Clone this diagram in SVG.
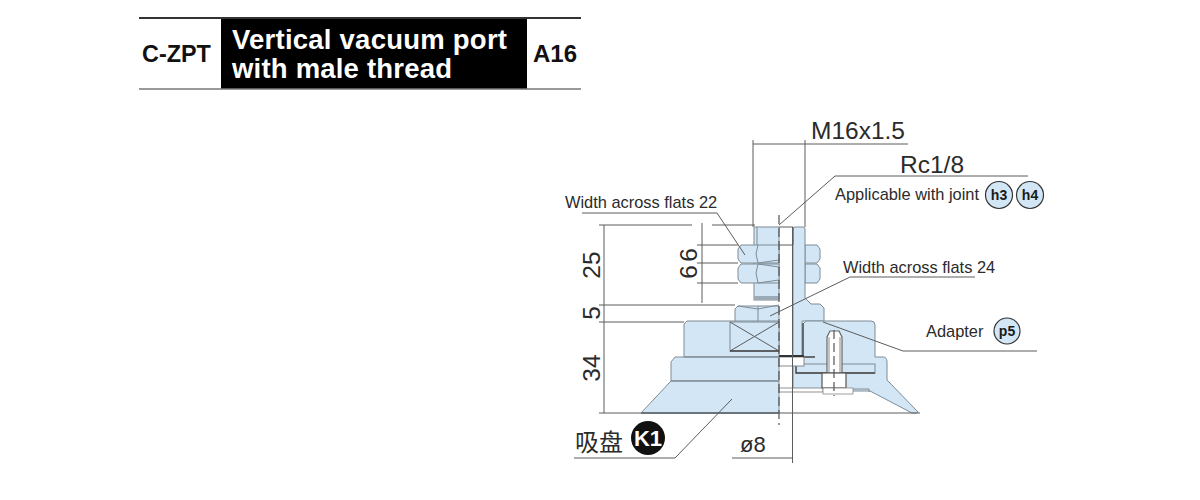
<svg xmlns="http://www.w3.org/2000/svg" width="1200" height="500" viewBox="0 0 1200 500">
<style>
text{font-family:"Liberation Sans",Arial,sans-serif;fill:#2b2b2b}
.cjk{font-family:"Noto Sans CJK SC","Liberation Sans",sans-serif}
.b{font-weight:bold;fill:#111}
.dim{font-size:24.500px}
.lab{font-size:16.400px}
.badge{font-size:14px;font-weight:bold;text-anchor:middle;fill:#1a1a1a}
.p{fill:#d2e6f5;stroke:#7f8c96;stroke-width:1}
.ln{fill:none;stroke:#5c5c5c;stroke-width:1}
.soft{fill:none;stroke:#7f8c96;stroke-width:1}
.dk{fill:none;stroke:#444;stroke-width:1.300}
.wh{fill:#fff;stroke:#888;stroke-width:1}
.cl{fill:none;stroke:#555;stroke-width:1.200;stroke-dasharray:9 4}
.c{fill:#d2e6f5;stroke:#333;stroke-width:1.200}
</style>
<rect width="1200" height="500" fill="#fff"/>
<g id="header">
<rect x="221" y="18" width="306" height="71" fill="#000"/>
<path d="M139 18H581" stroke="#333" stroke-width="2" fill="none"/>
<path d="M139 89H581" stroke="#777" stroke-width="1.400" fill="none"/>
<text class="b" x="142" y="62" font-size="23.400">C-ZPT</text>
<text x="232" y="49" font-size="27.500" font-weight="bold" style="fill:#fff" textLength="275" lengthAdjust="spacing">Vertical vacuum port</text>
<text x="232" y="78" font-size="27.500" font-weight="bold" style="fill:#fff" textLength="220" lengthAdjust="spacing">with male thread</text>
<text class="b" x="533" y="62" font-size="24">A16</text>
</g>
<g id="part">
<rect class="p" x="754" y="227" width="25" height="73"/>
<path class="soft" d="M757 227V245"/>
<rect x="754" y="296" width="25" height="4" fill="#9aaab6"/>
<path class="p" d="M741 245H779V263H741L738 259V249Z"/>
<path class="p" d="M741 264H779V283H741L738 279V268Z"/>
<path class="soft" d="M758 245L756 254L758 263M758 264L756 273L758 283M758 263L779 260M758 264L779 267M758 283L779 280"/>
<path class="p" d="M805 245H817L820 249V259L817 263H805Z"/>
<path class="p" d="M805 264H817L820 268V279L817 283H805Z"/>
<path class="p" d="M793 229Q793 227 795 227H803Q805 227 805 229V298L811 304H820L824 308V321H802V357H793Z"/>
<path class="ln" d="M779 227H793V245H779"/>
<path class="p" d="M738 306H779V322H735V309Z"/>
<path class="soft" d="M758 306V322M758 309L738 306M758 309L779 305"/>
<path class="p" d="M684 324L687 321H779V357H684Z"/>
<rect class="p" x="730" y="322" width="49" height="29"/>
<path class="ln" d="M730 322L779 351M730 351L779 322"/>
<path class="dk" d="M730 351H779"/>
<path class="p" d="M671 362L675 357H779V381H671Z"/>
<path class="p" d="M671 381H779V413H641Z"/>
<path class="soft" d="M671 381H779M684 357H779"/>
<path d="M641 413H779" stroke="#7f8c96" stroke-width="2" fill="none"/>
<path class="p" d="M803 324L806 321H871Q875 321 875 325V357H883Q887 357 887 362V380L918 412Q918 413 915 413L912 413L870 391H793V357H803Z"/>
<rect class="p" x="796" y="364" width="79" height="9"/>
<path class="dk" d="M803 323V356M796 365V373H875M793 357H815"/>
<rect class="wh" x="779" y="357" width="25" height="9"/>
<path d="M779 356H804" stroke="#333" stroke-width="2" fill="none"/>
<rect x="779" y="388" width="44" height="4" fill="#fff" stroke="#777" stroke-width="0.800"/>
<path class="soft" d="M853 389H869V392"/>
<path d="M827 373V337L830 331H839L842 337V373Z" fill="#fff" stroke="#666" stroke-width="1.200"/>
<path d="M829 373V337M840 373V337" stroke="#8a8a8a" stroke-width="1" fill="none"/>
<rect x="822" y="373" width="24" height="15" fill="#fff" stroke="#555" stroke-width="1.200"/>
<rect x="823" y="388" width="30" height="6" fill="#fff" stroke="#888" stroke-width="0.800"/>
<path class="cl" d="M834 330V396" stroke-dasharray="7 3"/>
<path class="cl" d="M779 215V425"/>
</g>
<g id="connectors">
<path class="ln" d="M753 140V227M805 140V227M753 144H908"/>
<path class="ln" d="M792.500 227V463"/>
<path class="ln" d="M599 225H692M712 225H755M604 225V413M599 305H735M599 322H684M599 413H920"/>
<path class="ln" d="M702 223V303M697 245H738M697 263H738M697 283H738"/>
<path class="ln" d="M582 213H717L745 255"/>
<path class="ln" d="M1028 176H835L779 225"/>
<path class="ln" d="M975 277H850L770 316"/>
<path class="ln" d="M823 322L903 351H1037"/>
<path class="ln" d="M574 458H675L732 399"/>
<path class="ln" d="M732 458H792"/>
</g>
<g id="labels">
<text class="dim" x="811" y="139">M16x1.5</text>
<text class="dim" x="900" y="173">Rc1/8</text>
<text class="lab" x="835" y="200">Applicable with joint</text>
<text class="lab" x="565" y="208">Width across flats 22</text>
<text class="lab" x="843" y="273">Width across flats 24</text>
<text class="lab" x="926" y="337">Adapter</text>
<text x="740" y="452" font-size="22">ø8</text>
<text class="dim" text-anchor="middle" transform="translate(600 265) rotate(-90)">25</text>
<text class="dim" text-anchor="middle" transform="translate(600 313) rotate(-90)">5</text>
<text class="dim" text-anchor="middle" transform="translate(600 368) rotate(-90)">34</text>
<text class="dim" text-anchor="middle" transform="translate(697 255) rotate(-90)">6</text>
<text class="dim" text-anchor="middle" transform="translate(697 272) rotate(-90)">6</text>
<text class="cjk" x="575" y="451" font-size="24">吸盘</text>
</g>
<g id="badge-h3"><circle class="c" cx="999" cy="195" r="13.500"/><text class="badge" x="999" y="200">h3</text></g>
<g id="badge-h4"><circle class="c" cx="1030" cy="195" r="13.500"/><text class="badge" x="1030" y="200">h4</text></g>
<g id="badge-p5"><circle class="c" cx="1007" cy="331" r="13"/><text class="badge" x="1007" y="336">p5</text></g>
<g id="badge-k1"><circle cx="648" cy="438" r="17" fill="#111"/><text x="648" y="446" font-size="22" font-weight="bold" text-anchor="middle" style="fill:#fff">K1</text></g>
</svg>
